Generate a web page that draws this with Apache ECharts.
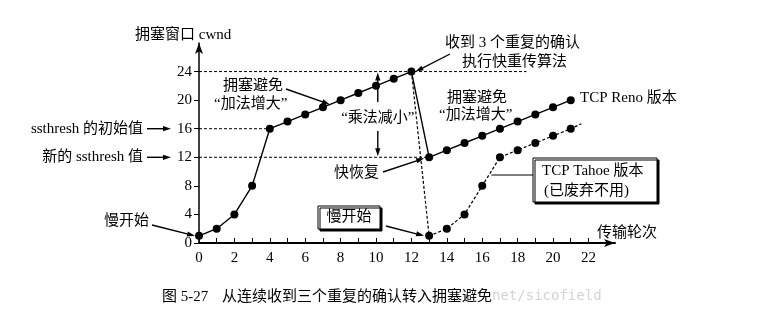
<!DOCTYPE html>
<html>
<head>
<meta charset="utf-8">
<script src="https://cdn.jsdelivr.net/npm/echarts@6/dist/echarts.min.js"></script>
<style>
html, body { margin: 0; background: #fff; }
#chart { width: 777px; height: 322px; }
</style>
</head>
<body>
<div id="chart"></div>
<script>
// 传输轮次 / 拥塞窗口
var renoRounds = [0, 1, 2, 3, 4, 5, 6, 7, 8, 9, 10, 11, 12, 13, 14, 15, 16, 17, 18, 19, 20, 21]
var renoCwnd = [1, 2, 4, 8, 16, 17, 18, 19, 20, 21, 22, 23, 24, 12, 13, 14, 15, 16, 17, 18, 19, 20]
var tahoeRounds = [12, 13, 14, 15, 16, 17, 18, 19, 20, 21]
var tahoeCwnd = [24, 1, 2, 4, 8, 12, 13, 14, 15, 16]
var tahoeTail = [21.6, 16.7]
var xTicks = [0, 1, 2, 3, 4, 5, 6, 7, 8, 9, 10, 11, 12, 13, 14, 15, 16, 17, 18, 19, 20, 21, 22]
var xLabels = [0, 2, 4, 6, 8, 10, 12, 14, 16, 18, 20, 22]
var yLabels = [0, 4, 8, 12, 16, 20, 24]
var ssthreshInit = 16, ssthreshNew = 12, peak = 24
var peakRound = 12, initRound = 4, recoverRound = 13, peakLineEnd = 18.5

var SERIF = "'Liberation Serif', 'Noto Sans CJK SC', serif"
var CJK = "'Liberation Serif', 'Noto Sans CJK SC', sans-serif"

function zip (xs, ys) {
	var out = []
	for (var i = 0; i < xs.length; i++) out.push([xs[i], ys[i]])
	return out
}

function dashLine (x1, x2, y) {
	return {
		type: 'line', data: [[x1, y], [x2, y]], symbol: 'none', silent: true,
		lineStyle: { color: '#000', width: 1, type: [3, 2] }, z: 1
	}
}

var chart = echarts.init(document.getElementById('chart'))

var tahoeData = zip(tahoeRounds, tahoeCwnd).map(function (p, i) {
	return i === 0 ? { value: p, symbol: 'none' } : p
})
tahoeData.push({ value: tahoeTail, symbol: 'none' })

chart.setOption({
	animation: false,
	grid: { left: 199, top: 43, width: 416, height: 200 },
	xAxis: {
		type: 'value', min: 0, max: 23.5, interval: 1,
		axisLine: { lineStyle: { color: '#000', width: 2 }, symbol: ['none', 'arrow'], symbolSize: [6, 11] },
		axisTick: { inside: true, length: 5, customValues: xTicks, lineStyle: { color: '#000' } },
		axisLabel: { customValues: xLabels, color: '#000', fontFamily: SERIF, fontSize: 15, margin: 8 },
		splitLine: { show: false }
	},
	yAxis: {
		type: 'value', min: 0, max: 28, interval: 4,
		axisLine: { show: true, lineStyle: { color: '#000', width: 1.5 }, symbol: ['none', 'arrow'], symbolSize: [6, 11] },
		axisTick: { show: true, length: 5, customValues: yLabels, lineStyle: { color: '#000' } },
		axisLabel: { customValues: yLabels, color: '#000', fontFamily: SERIF, fontSize: 15, margin: 7 },
		splitLine: { show: false }
	},
	series: [
		dashLine(0, peakLineEnd, peak),
		dashLine(0, initRound, ssthreshInit),
		dashLine(0, recoverRound, ssthreshNew),
		{
			name: 'TCP Tahoe', type: 'line', data: tahoeData,
			symbol: 'circle', symbolSize: 8,
			itemStyle: { color: '#000' }, lineStyle: { color: '#000', width: 1.2, type: [3, 2] }, z: 2
		},
		{
			name: 'TCP Reno', type: 'line', data: zip(renoRounds, renoCwnd),
			symbol: 'circle', symbolSize: 8,
			itemStyle: { color: '#000' }, lineStyle: { color: '#000', width: 1.4 }, z: 3
		}
	]
})

function px (x, y) { return chart.convertToPixel({ gridIndex: 0 }, [x, y]) }

function arrow (x1, y1, x2, y2) {
	var a = Math.atan2(y2 - y1, x2 - x1), L = 8, W = 2.6
	var c = Math.cos(a), s = Math.sin(a)
	return [
		{ type: 'line', shape: { x1: x1, y1: y1, x2: x2 - c * 4, y2: y2 - s * 4 }, style: { stroke: '#000', lineWidth: 1.4 } },
		{ type: 'polygon', shape: { points: [[x2, y2], [x2 - L * c + W * s, y2 - L * s - W * c], [x2 - L * c - W * s, y2 - L * s + W * c]] }, style: { fill: '#000' } }
	]
}

function text (str, x, y, opt) {
	opt = opt || {}
	return {
		type: 'text', x: x, y: y, z: 10,
		style: {
			text: str, fill: opt.color || '#000', fontSize: opt.size || 14, fontFamily: opt.family || CJK,
			fontWeight: opt.weight || 'normal', align: opt.align || 'left', verticalAlign: 'middle', lineHeight: opt.lh || 18
		}
	}
}

function box (x, y, w, h) {
	return {
		type: 'rect', shape: { x: x, y: y, width: w, height: h }, z: 9,
		style: { fill: '#fff', stroke: '#000', lineWidth: 1, shadowColor: '#000', shadowOffsetX: 2, shadowOffsetY: 2, shadowBlur: 0 }
	}
}

var pPeak = px(peakRound, peak)
var pRecover = px(recoverRound, ssthreshNew)
var pSlow = px(recoverRound, tahoeCwnd[1])
var pStart = px(renoRounds[0], renoCwnd[0])
var pAvoid = px(7.4, 19.4)
var pTahoeLink = px(16.4, 10)
var y16 = px(0, ssthreshInit)[1], y12 = px(0, ssthreshNew)[1], y24 = pPeak[1]
var xMul = px(10.1, 0)[0]

var g = []
g.push(text('拥塞窗口 cwnd', 135, 35, { size: 15 }))
g.push(text('传输轮次', 597, 233, { size: 15 }))
g.push(text('ssthresh 的初始值', 143, y16, { align: 'right', size: 15 }))
g = g.concat(arrow(147, y16, 171, y16))
g.push(text('新的 ssthresh 值', 143, y12, { align: 'right', size: 15 }))
g = g.concat(arrow(147, y12, 171, y12))
g.push(text('慢开始', 104, 221, { size: 15 }))
g = g.concat(arrow(152, 225, pStart[0] - 4, pStart[1]))

g.push(text('拥塞避免', 223, 86, { size: 15 }))
g.push(text('“加法增大”', 214, 104, { size: 15 }))
g = g.concat(arrow(286, 89, pAvoid[0], pAvoid[1]))

g = g.concat(arrow(xMul, 102, xMul, y24 + 1))
g.push(text('“乘法减小”', xMul, 118, { size: 15, align: 'center' }))
g = g.concat(arrow(xMul, 131, xMul, y12 - 1))

g.push(text('收到 3 个重复的确认', 445, 43, { size: 15 }))
g.push(text('执行快重传算法', 462, 62, { size: 15 }))
g = g.concat(arrow(450, 54, pPeak[0] + 4, pPeak[1]))

g.push(text('拥塞避免', 447, 98, { size: 15 }))
g.push(text('“加法增大”', 439, 115, { size: 15 }))
g.push(text('TCP Reno 版本', 580, 98, { size: 15 }))

g.push(text('快恢复', 334, 173, { size: 15 }))
g = g.concat(arrow(383, 172, pRecover[0] - 5, pRecover[1] + 1))

g.push(box(318, 206, 62, 23))
g.push(text('慢开始', 349, 217, { size: 15, align: 'center' }))
g = g.concat(arrow(386, 226, pSlow[0] - 5, pSlow[1]))

g.push(box(533, 158, 124, 44))
g.push(text('TCP Tahoe 版本', 542, 171, { size: 15 }))
g.push(text('(已废弃不用)', 544, 191, { size: 15 }))
g.push({ type: 'line', shape: { x1: pTahoeLink[0] + 2, y1: 175, x2: 533, y2: 175 }, style: { stroke: '#000', lineWidth: 1 } })

g.push(text('图 5-27', 162, 297, { size: 15 }))
g.push(text('从连续收到三个重复的确认转入拥塞避免', 222, 297, { size: 15 }))
g.push(text('net/sicofield', 492, 296, { size: 14, color: '#d4d4d4', family: "'DejaVu Sans Mono', monospace" }))

chart.setOption({ graphic: g })
</script>
</body>
</html>
